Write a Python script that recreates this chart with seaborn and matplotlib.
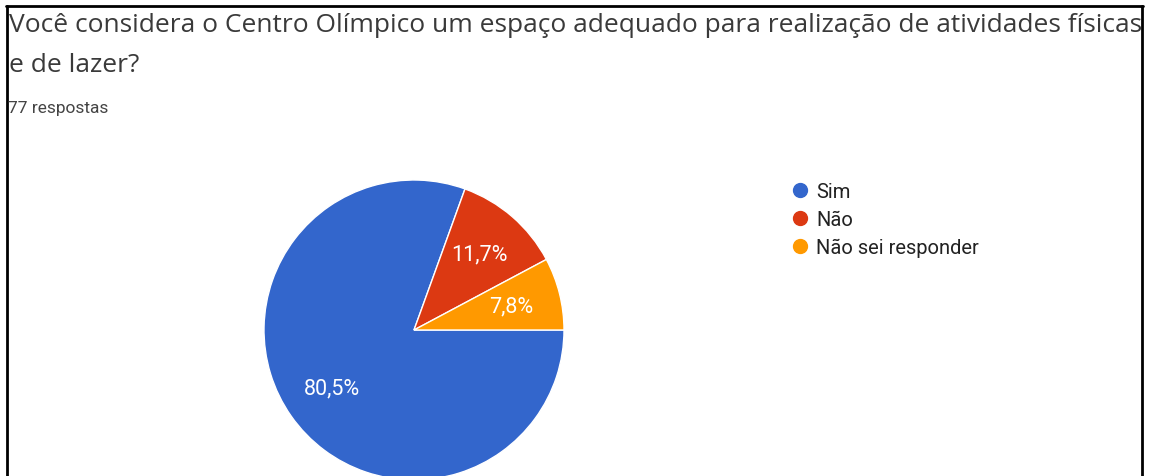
import matplotlib
matplotlib.use("Agg")
import matplotlib.pyplot as plt
from matplotlib.lines import Line2D
import seaborn as sns

# Survey question and answers
question_lines = [
    "Você considera o Centro Olímpico um espaço adequado para realização de atividades físicas",
    "e de lazer?",
]
responses_label = "77 respostas"
categories = ["Sim", "Não", "Não sei responder"]
counts = [62, 9, 6]
colors = ["#3366cc", "#dc3912", "#ff9900"]

W, H = 1149, 477
sns.set_theme(style="white")
plt.rcParams["font.family"] = ["Roboto", "DejaVu Sans"]

fig = plt.figure(figsize=(W / 100, H / 100), dpi=100)
fig.patch.set_facecolor("white")


def fx(x):
    return x / W


def fy(y):
    return 1 - y / H


# Pie chart, clockwise from 3 o'clock
cx, cy, r = 414, 331, 150
ax = fig.add_axes([fx(cx - r), fy(cy + r), 2 * r / W, 2 * r / H])
ax.pie(
    counts,
    colors=colors,
    startangle=0,
    counterclock=False,
    autopct=lambda p: f"{p:.1f}%".replace(".", ","),
    pctdistance=0.67,
    textprops=dict(color="white", fontsize=15.5),
    wedgeprops=dict(edgecolor="white", linewidth=1),
)
ax.set_xlim(-1, 1)
ax.set_ylim(-1, 1)
ax.set_aspect("equal")
ax.axis("off")

# Question header
title_font = ["Open Sans", "DejaVu Sans"]
fig.text(fx(9), fy(32), question_lines[0], fontsize=19, color="#3a3a3a",
         va="baseline", family=title_font)
fig.text(fx(9), fy(72), question_lines[1], fontsize=19, color="#3a3a3a",
         va="baseline", family=title_font)
fig.text(fx(8), fy(113), responses_label, fontsize=12.5, color="#444444", va="baseline")

# Legend
handles = [
    Line2D([], [], marker="o", linestyle="", markersize=10, color=c) for c in colors
]
fig.legend(
    handles,
    categories,
    loc="upper left",
    bbox_to_anchor=(fx(781), fy(173)),
    frameon=False,
    fontsize=14.5,
    handlelength=0.9,
    handletextpad=0.35,
    labelspacing=0.45,
    borderpad=0,
    labelcolor="#222222",
)

# Page frame
frame = dict(color="black", linewidth=2, transform=fig.transFigure)
fig.add_artist(Line2D([fx(6), fx(1143)], [fy(7), fy(7)], **frame))
fig.add_artist(Line2D([fx(7), fx(7)], [fy(7), 0], **frame))
fig.add_artist(Line2D([fx(1142), fx(1142)], [fy(7), 0], **frame))

fig.savefig("out.png", dpi=100)
